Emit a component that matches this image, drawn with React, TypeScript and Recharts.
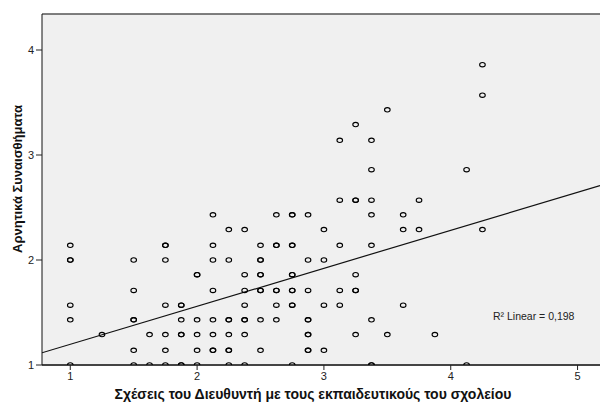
import { ScatterChart, Scatter, XAxis, YAxis, CartesianGrid, ReferenceLine, Label } from "recharts";

// x levels (Σχέσεις του Διευθυντή) and the y values found at each level
const xLevels = [1, 1.25, 1.5, 1.625, 1.75, 1.875, 2, 2.125, 2.25, 2.375, 2.5, 2.625, 2.75, 2.875, 3, 3.125, 3.25, 3.375, 3.5, 3.625, 3.75, 3.875, 4.125, 4.25];
const yByLevel = [
  [1, 1.43, 1.57, 2, 2, 2.14],
  [1.29],
  [1, 1.14, 1.43, 1.43, 1.71, 2],
  [1, 1.29],
  [1, 1.14, 1.29, 1.57, 2, 2.14, 2.14],
  [1, 1, 1.29, 1.29, 1.43, 1.57, 1.57],
  [1, 1.14, 1.29, 1.43, 1.86, 1.86],
  [1.14, 1.14, 1.29, 1.43, 1.71, 2, 2.14, 2.43],
  [1, 1.14, 1.14, 1.29, 1.43, 1.43, 2, 2.29],
  [1, 1.29, 1.43, 1.43, 1.57, 1.71, 1.86, 2.29],
  [1.14, 1.43, 1.71, 1.71, 1.86, 1.86, 2, 2, 2.14],
  [1.43, 1.57, 1.71, 1.71, 2.14, 2.14, 2.43],
  [1, 1.57, 1.57, 1.71, 1.71, 1.86, 1.86, 2.14, 2.14, 2.43, 2.43],
  [1.14, 1.14, 1.29, 1.29, 1.43, 1.43, 1.71, 2, 2.43],
  [1.14, 1.57, 2, 2.29],
  [1.57, 1.71, 2.14, 2.57, 3.14],
  [1.29, 1.71, 1.71, 1.86, 2.57, 2.57, 3.29],
  [1, 1, 1.43, 2.14, 2.43, 2.57, 2.86, 3.14],
  [1.29, 3.43],
  [1.57, 2.29, 2.43],
  [2.29, 2.57],
  [1.29],
  [1, 2.86],
  [2.29, 3.57, 3.86],
];

const xTicks = [1, 2, 3, 4, 5];
const yTicks = [1, 2, 3, 4];
const xDomain = [0.777, 5.177];
const yDomain = [1, 4.343];

// linear fit
const fitIntercept = 0.835;
const fitSlope = 0.362;
const rSquaredText = "R² Linear = 0,198";

const points = xLevels.flatMap((x, i) => yByLevel[i].map((y) => ({ x, y })));

const fitSegment = [
  { x: xDomain[0], y: fitIntercept + fitSlope * xDomain[0] },
  { x: xDomain[1], y: fitIntercept + fitSlope * xDomain[1] },
];

const font = "'Liberation Sans', Arial, sans-serif";

const Ring = (props: any) => {
  const { cx, cy } = props;
  if (cx == null || cy == null) return null;
  return <ellipse cx={cx} cy={cy} rx={2.8} ry={2.2} fill="none" stroke="#000" strokeWidth={1.1} />;
};

export default function App() {
  return (
    <div style={{ position: "absolute", left: 0, top: 0, width: 600, height: 403, overflow: "hidden", background: "#fff" }}>
      <ScatterChart width={600} height={403} margin={{ top: 14, right: 0, left: 0, bottom: 0 }}>
        <CartesianGrid fill="#f0f0f0" horizontal={false} vertical={false} />
        <XAxis
          type="number"
          dataKey="x"
          domain={xDomain}
          ticks={xTicks}
          allowDataOverflow
          height={38}
          axisLine={{ stroke: "#444", strokeWidth: 2 }}
          tickLine={{ stroke: "#222" }}
          tickSize={5}
          tick={{ fill: "#222", fontSize: 11, fontFamily: font }}
        >
          <Label
            content={() => (
              <text x={313} y={399} textAnchor="middle" fontFamily={font} fontSize={14} fontWeight="bold" fill="#111">
                Σχέσεις του Διευθυντή με τους εκπαιδευτικούς του σχολείου
              </text>
            )}
          />
        </XAxis>
        <YAxis
          type="number"
          dataKey="y"
          domain={yDomain}
          ticks={yTicks}
          allowDataOverflow
          width={42}
          axisLine={{ stroke: "#111" }}
          tickLine={{ stroke: "#222" }}
          tickSize={6}
          tick={{ fill: "#222", fontSize: 11, fontFamily: font }}
        >
          <Label
            content={() => (
              <text
                x={22}
                y={179}
                transform="rotate(-90 22 179)"
                textAnchor="middle"
                fontFamily={font}
                fontSize={13}
                fontWeight="bold"
                fill="#111"
              >
                Αρνητικά Συναισθήματα
              </text>
            )}
          />
        </YAxis>
        <ReferenceLine y={yDomain[1]} stroke="#555" strokeWidth={1.5} />
        <ReferenceLine segment={fitSegment} stroke="#111" strokeWidth={1.2} ifOverflow="hidden" />
        <Scatter data={points} shape={<Ring />} isAnimationActive={false} />
        <text x={493} y={320} fontFamily={font} fontSize={10.5} fill="#222">
          {rSquaredText}
        </text>
      </ScatterChart>
    </div>
  );
}
